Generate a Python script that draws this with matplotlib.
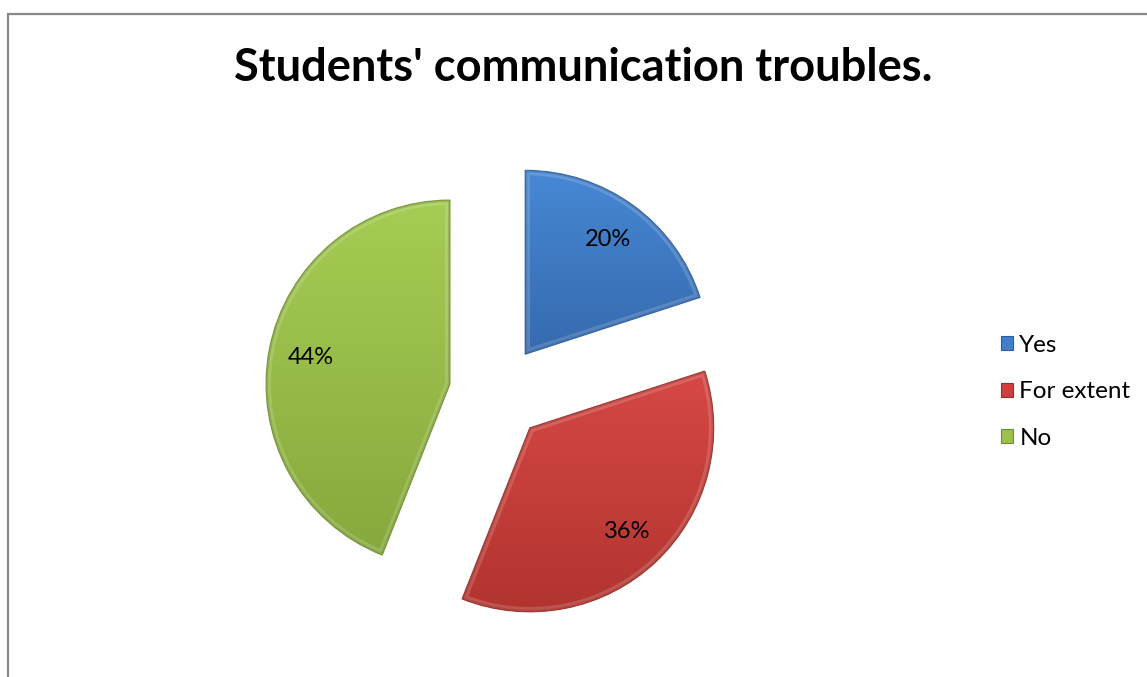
import numpy as np
import matplotlib.pyplot as plt
from matplotlib.colors import LinearSegmentedColormap
from matplotlib.patches import Rectangle, PathPatch

categories = ['Yes', 'For extent', 'No']
shares = [20, 36, 44]
title = "Students' communication troubles."

base = ['#3f7fcb', '#cf403d', '#9cc04b']
top_shade = ['#4788d5', '#d64845', '#a6cd54']
bottom_shade = ['#366aae', '#b2342f', '#87a83c']
outline = ['#2f5c98', '#943029', '#6f8c32']

FONT = 'Lato'
W, H = 1147, 677
R = 184.0                     # pie radius in pixels
cx, cy = 497.0, H - 393.0     # pie centre in pixels (from bottom-left)

fig = plt.figure(figsize=(W / 100, H / 100), dpi=100)
ax = fig.add_axes([0, 0, 1, 1])

wedges, texts, autotexts = ax.pie(
    shares, startangle=90, counterclock=False, explode=[0.26] * 3,
    colors=base, autopct='%1.0f%%', pctdistance=0.77,
    wedgeprops=dict(linewidth=0), frame=False,
    textprops=dict(family=FONT, fontsize=17, color='black'))

ax.set_xlim(-cx / R, (W - cx) / R)
ax.set_ylim(-cy / R, (H - cy) / R)
ax.set_aspect('equal')
ax.axis('off')

# vertical gradient and bevel-like rim on each slice
for w, c0, c1, ec in zip(wedges, top_shade, bottom_shade, outline):
    path = w.get_patch_transform().transform_path(w.get_path())
    ext = path.get_extents()
    cmap = LinearSegmentedColormap.from_list('g', [c1, c0])
    grad = np.linspace(0, 1, 256).reshape(-1, 1)
    z = w.get_zorder()
    im = ax.imshow(grad, cmap=cmap, origin='lower', aspect='auto',
                   extent=(ext.x0, ext.x1, ext.y0, ext.y1), zorder=z + 0.1)
    im.set_clip_path(w)
    # soft light rim just inside the edge
    rim = PathPatch(path, fill=False, ec='white', lw=7, alpha=0.16,
                    zorder=z + 0.2)
    ax.add_patch(rim)
    rim.set_clip_path(w)
    # darker rim for depth
    shade = PathPatch(path, fill=False, ec=ec, lw=3, alpha=0.35,
                      zorder=z + 0.25)
    ax.add_patch(shade)
    shade.set_clip_path(w)
    edge = PathPatch(path, fill=False, ec=ec, lw=0.8, alpha=0.8,
                     zorder=z + 0.3)
    ax.add_patch(edge)

for t in autotexts:
    t.set_zorder(10)

# legend
handles = [Rectangle((0, 0), 1, 1, fc=b, ec=e, lw=0.8) for b, e in zip(base, outline)]
fig.legend(handles, categories, loc='center left',
           bbox_to_anchor=(989 / W, 1 - 392 / H), frameon=False,
           prop=dict(family=FONT, size=17.5), handlelength=0.5,
           handleheight=0.5, handletextpad=0.25, labelspacing=1.05,
           borderpad=0)

fig.text(583 / W, 1 - 68 / H, title, ha='center', va='center',
         fontsize=32.6, weight='bold', family=FONT)

# chart area border
fig.add_artist(Rectangle((8 / W, -0.1), 1.2, (H - 14) / H + 0.1,
                         transform=fig.transFigure, fill=False,
                         ec='#888888', lw=1.6))

fig.savefig('out.png', dpi=100, facecolor='white')
